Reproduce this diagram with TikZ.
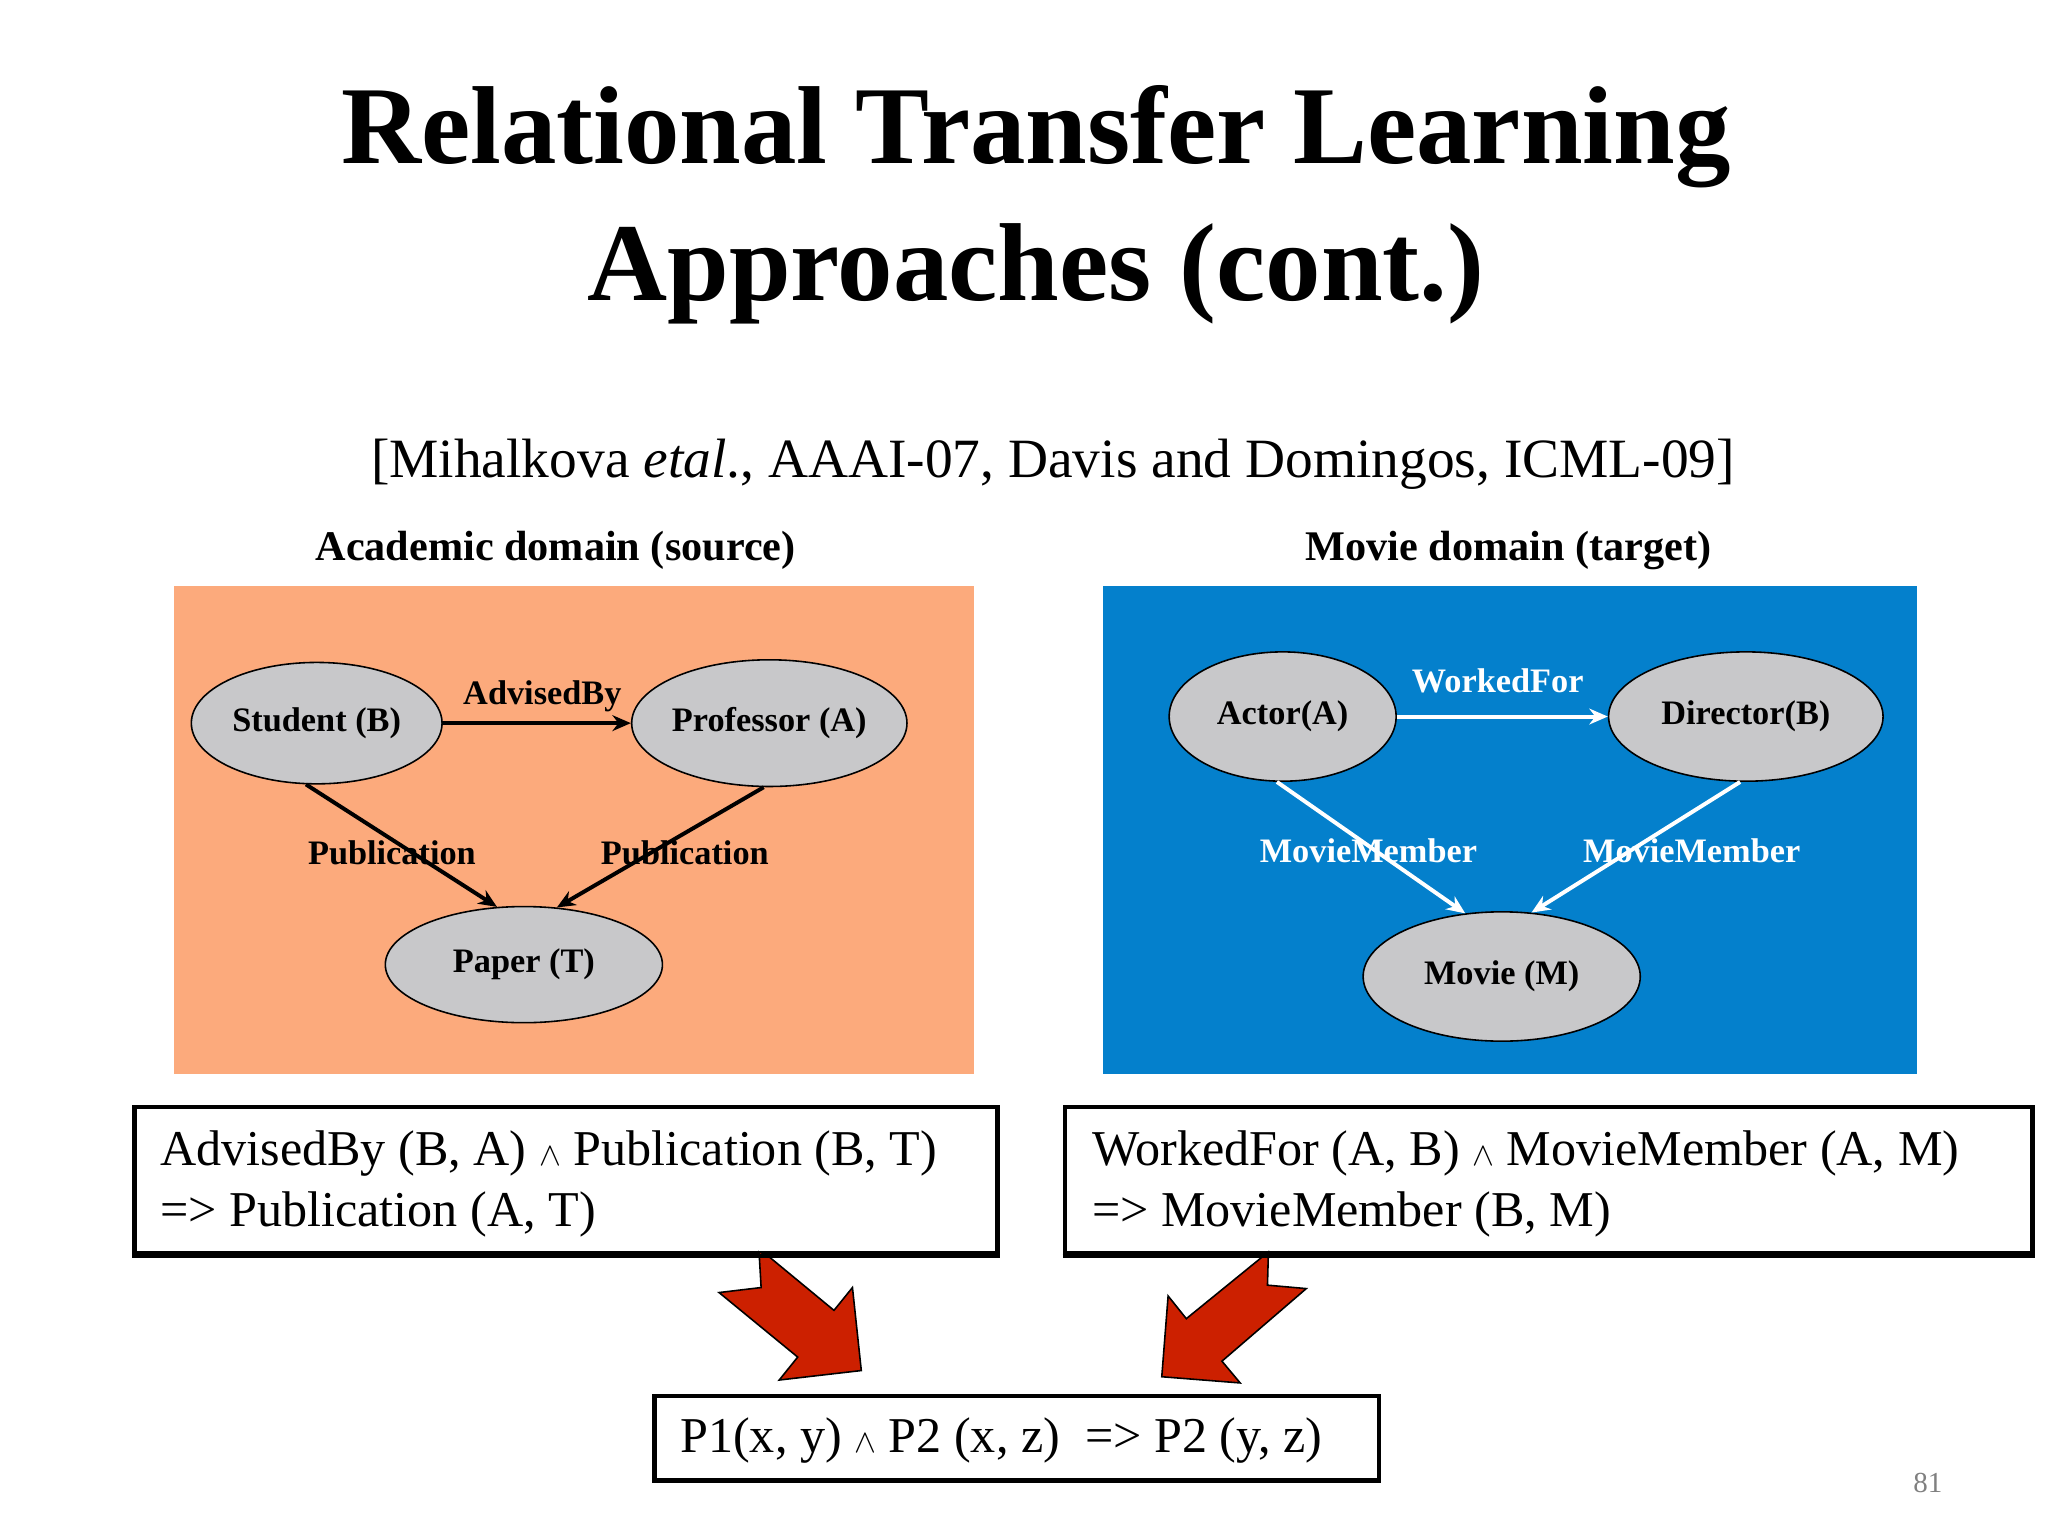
\documentclass[tikz,border=0pt]{standalone}
\usepackage{fontspec}
\setmainfont{Liberation Serif}
\usetikzlibrary{shapes.geometric,arrows.meta}
\begin{document}
\begin{tikzpicture}[x=1pt,y=-1pt,
  ell/.style={ellipse,draw=black,line width=1.2pt,fill=nodegray,inner sep=0pt,font=\fontsize{26}{30}\selectfont\bfseries},
  lbl/.style={font=\fontsize{26}{30}\selectfont\bfseries,inner sep=0pt},
  bar/.style={line width=3pt,-{Stealth[length=14pt,width=12pt]}},
  rulebox/.style={draw=black,line width=3.5pt,inner sep=0pt},
  redarrow/.style={fill=arrowred,draw=black,line width=1.2pt,line join=miter}]
\definecolor{nodegray}{RGB}{200,200,202}
\definecolor{orangebg}{RGB}{252,170,124}
\definecolor{bluebg}{RGB}{4,128,204}
\definecolor{arrowred}{RGB}{204,32,0}
\useasboundingbox (0,0) rectangle (1552,1164);
\fill[white] (0,0) rectangle (1552,1164);
\node[font=\fontsize{84}{104}\selectfont\bfseries,align=center] (title) at (785,155) {Relational Transfer Learning\\Approaches (cont.)};
\node[font=\fontsize{42}{48}\selectfont] (cite) at (798,352) {[Mihalkova \textit{etal}., AAAI-07, Davis and Domingos, ICML-09]};
\node[font=\fontsize{32}{36}\selectfont\bfseries] (h1) at (421,417) {Academic domain (source)};
\node[font=\fontsize{32}{36}\selectfont\bfseries] (h2) at (1143,417) {Movie domain (target)};
\fill[orangebg] (132,444) rectangle (738,814);
\fill[bluebg] (836,444) rectangle (1453,814);
\node[ell,minimum width=190pt,minimum height=92pt] (stu) at (240,548) {Student (B)};
\node[ell,minimum width=204pt,minimum height=96pt] (pro) at (583,548) {Professor (A)};
\node[ell,minimum width=210pt,minimum height=88pt] (pap) at (397,731) {Paper (T)};
\node[ell,minimum width=172pt,minimum height=98pt] (act) at (972,543) {Actor(A)};
\node[ell,minimum width=208pt,minimum height=98pt] (dir) at (1323,543) {Director(B)};
\node[ell,minimum width=210pt,minimum height=98pt] (mov) at (1138,740) {Movie (M)};
\draw[bar] (stu.east) -- (pro.west);
\draw[bar] (stu.-100) -- (pap.115);
\draw[bar] (pro.-95) -- (pap.60);
\draw[bar,white] (act.east) -- (dir.west);
\draw[bar,white] (act.-95) -- (mov.120);
\draw[bar,white] (dir.-95) -- (mov.65);
\node[lbl] (l1) at (411,528) {AdvisedBy};
\node[lbl] (l2) at (297,646) {Publication};
\node[lbl] (l3) at (519,646) {Publication};
\node[lbl,white] (l4) at (1135,516) {WorkedFor};
\node[lbl,white] (l5) at (1037,645) {MovieMember};
\node[lbl,white] (l6) at (1282,645) {MovieMember};
\node[rulebox,minimum width=654pt,minimum height=111pt] (b1) at (429,894.5) {};
\node[anchor=west,align=left,font=\fontsize{38}{46}\selectfont] (t1) at (118,897) {AdvisedBy (B, A) $\wedge$ Publication (B, T)\\=> Publication (A, T)};
\node[rulebox,minimum width=733pt,minimum height=111pt] (b2) at (1173.5,894.5) {};
\node[anchor=west,align=left,font=\fontsize{38}{46}\selectfont] (t2) at (824,897) {WorkedFor (A, B) $\wedge$ MovieMember (A, M)\\=> MovieMember (B, M)};
\node[rulebox,minimum width=549pt,minimum height=64pt] (b3) at (770.5,1090) {};
\node[anchor=west,font=\fontsize{38}{46}\selectfont] (t3) at (512,1092) {P1(x, y) $\wedge$ P2 (x, z)\ \ => P2 (y, z)};
\node[font=\fontsize{22}{26}\selectfont,text=gray] (pg) at (1461,1124) {81};
\draw[redarrow] (575.2,948.7) -- (581.5,951.3) -- (632,993) -- (646,975.7) -- (652.7,1038.6) -- (590.5,1045.8) -- (604.5,1028.4) -- (544.9,979.5) -- (576.8,975.7) -- cycle;
\draw[redarrow] (961.2,948.7) -- (960.5,973.9) -- (989.9,976.5) -- (926,1031.5) -- (939.8,1048) -- (880.4,1043.3) -- (885.2,982.1) -- (899,999.3) -- (958,951.3) -- cycle;
\draw[line width=3.5pt] (b1.south west) -- (b1.south east);
\draw[line width=3.5pt] (b2.south west) -- (b2.south east);
\end{tikzpicture}
\end{document}
